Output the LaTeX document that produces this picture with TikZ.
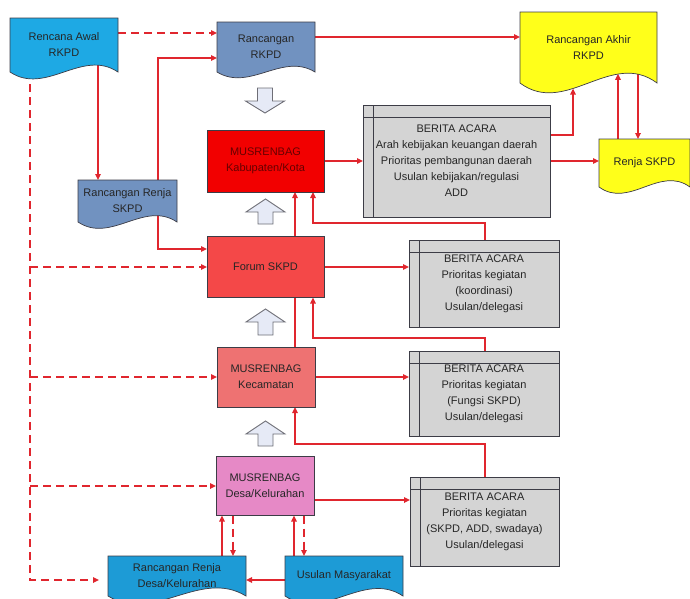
\documentclass[tikz,border=0pt]{standalone}
\usepackage{fontspec}
\setmainfont{Liberation Sans}
\usetikzlibrary{calc,arrows.meta}

\definecolor{boxline}{HTML}{3C3C46}
\definecolor{linkred}{HTML}{E0262E}
\definecolor{awalblue}{HTML}{1EA9E4}
\definecolor{slateblue}{HTML}{7192C0}
\definecolor{desablue}{HTML}{1D9BD6}
\definecolor{docyellow}{HTML}{FFFF1A}
\definecolor{kabred}{HTML}{F20000}
\definecolor{forumred}{HTML}{F44848}
\definecolor{kecred}{HTML}{EE7272}
\definecolor{desapink}{HTML}{E689C6}
\definecolor{acarafill}{HTML}{D4D4D4}
\definecolor{hollowfill}{HTML}{E6EAF6}
\definecolor{hollowline}{HTML}{6E6E76}

\pgfdeclarelayer{links}
\pgfdeclarelayer{docs}
\pgfsetlayers{links,docs,main}

\tikzset{
  box/.style={draw=boxline,line width=0.7pt,outer sep=0pt,inner sep=2pt,align=center,
    text=black!85,font=\fontsize{11}{16}\selectfont},
  doc/.style={box,draw=none},
  acara/.style={box,fill=acarafill,draw=boxline,
    path picture={\draw[boxline,line width=0.7pt]
      ([yshift=-12pt]path picture bounding box.north west) -- ([yshift=-12pt]path picture bounding box.north east)
      ([xshift=10pt]path picture bounding box.north west) -- ([xshift=10pt]path picture bounding box.south west);}},
  link/.style={draw=linkred,line width=1.5pt,-{Triangle[length=6pt,width=5.5pt]}},
  dashlink/.style={link,dash pattern=on 8pt off 5pt},
  hollow/.style={fill=hollowfill,draw=hollowline,line width=0.9pt}
}

% wavy document outline behind a node: node, fill, bulge
\newcommand\docwave[3]{%
  \begin{pgfonlayer}{docs}
    \filldraw[fill=#2,draw=boxline,line width=0.7pt] (#1.north west) -- (#1.north east) -- (#1.south east)
      .. controls ($(#1.south west)!0.667!(#1.south east)+(0,-#3)$) and ($(#1.south west)!0.333!(#1.south east)+(0,#3)$) .. (#1.south west) -- cycle;
  \end{pgfonlayer}}

% block arrow: x, tip, head base, tail
\newcommand\hollowarrow[4]{%
  \filldraw[hollow] (#1,#2) -- (#1+19.5,#3) -- (#1+7.5,#3) -- (#1+7.5,#4) -- (#1-7.5,#4) -- (#1-7.5,#3) -- (#1-19.5,#3) -- cycle;}

\begin{document}
\begin{tikzpicture}[x=1pt,y=-1pt]
  \useasboundingbox (0,0) rectangle (690,598);

  % documents
  \node[doc,minimum width=108pt,minimum height=54pt] (awal) at (64,45) {Rencana Awal\\RKPD};
  \node[doc,minimum width=98pt,minimum height=50pt] (rkpd) at (266,47) {Rancangan\\RKPD};
  \node[doc,minimum width=137pt,minimum height=71pt] (akhir) at (588.5,47.5) {Rancangan Akhir\\RKPD};
  \node[doc,minimum width=91pt,minimum height=48pt] (renja) at (644.5,163) {Renja SKPD};
  \node[doc,minimum width=99pt,minimum height=42pt] (renjaskpd) at (127.5,201) {Rancangan Renja\\SKPD};
  \node[doc,minimum width=138pt,minimum height=40pt] (renjadesa) at (177,576) {Rancangan Renja\\Desa/Kelurahan};
  \node[doc,minimum width=118pt,minimum height=40pt] (usulan) at (344,576) {Usulan Masyarakat};
  \docwave{awal}{awalblue}{24}
  \docwave{rkpd}{slateblue}{20}
  \docwave{akhir}{docyellow}{34}
  \docwave{renja}{docyellow}{22}
  \docwave{renjaskpd}{slateblue}{22}
  \docwave{renjadesa}{desablue}{28}
  \docwave{usulan}{desablue}{26}

  % musrenbag levels
  \node[box,fill=kabred,text=red!40!black,minimum width=117pt,minimum height=62pt] (kab) at (265.5,161) {MUSRENBAG\\Kabupaten/Kota};
  \node[box,fill=forumred,minimum width=117pt,minimum height=61pt] (forum) at (265.5,267) {Forum SKPD};
  \node[box,fill=kecred,minimum width=98pt,minimum height=60pt] (kec) at (266,377) {MUSRENBAG\\Kecamatan};
  \node[box,fill=desapink,minimum width=98pt,minimum height=59pt] (desa) at (265,486) {MUSRENBAG\\Desa/Kelurahan};

  % berita acara
  \node[acara,minimum width=187pt,minimum height=112pt] (ba1) at (456.5,161)
    {BERITA ACARA\\Arah kebijakan keuangan daerah\\Prioritas pembangunan daerah\\Usulan kebijakan/regulasi\\ADD};
  \node[acara,minimum width=150pt,minimum height=87pt] (ba2) at (484,283.5)
    {BERITA ACARA\\Prioritas kegiatan\\(koordinasi)\\Usulan/delegasi};
  \node[acara,minimum width=150pt,minimum height=85pt] (ba3) at (484,393.5)
    {BERITA ACARA\\Prioritas kegiatan\\(Fungsi SKPD)\\Usulan/delegasi};
  \node[acara,minimum width=149pt,minimum height=89pt] (ba4) at (484.5,521.5)
    {BERITA ACARA\\Prioritas kegiatan\\(SKPD, ADD, swadaya)\\Usulan/delegasi};

  \hollowarrow{265}{113}{101}{88}
  \hollowarrow{265.5}{199}{212}{224}
  \hollowarrow{265.5}{309}{322}{335}
  \hollowarrow{265.5}{421}{434}{446}

  \begin{pgfonlayer}{links}
    \draw[dashlink] ($(awal.east)+(0,-12)$) -- ($(awal.east -| rkpd.west)+(0,-12)$);
    \draw[link] ($(rkpd.east)+(0,-10)$) -- ($(rkpd.east -| akhir.west)+(0,-10)$);
    \draw[link] (awal.center -| 98,0) -- (renjaskpd.north -| 98,0);
    \draw[link] (renjaskpd.north -| 158,0) |- ($(rkpd.west)+(0,11)$);
    \draw[link] (renjaskpd.center -| 158,0) |- ($(forum.west)+(0,-18)$);
    \draw[link] ($(ba1.east)+(0,-26)$) -| ($(akhir.south -| 573,0)+(0,5.6)$);
    \draw[link] (ba1.east) -- (ba1.east -| renja.west);
    \draw[link] (renja.center -| 618,0) -- ($(akhir.south -| 618,0)+(0,-9.2)$);
    \draw[link] (akhir.center -| 638,0) -- (renja.north -| 638,0);
    \draw[link] (kab.east) -- (kab.east -| ba1.west);
    \draw[link] (kec.north -| 295,0) -- (kab.south -| 295,0);
    \draw[link] (ba2.north -| 485,0) -- ++(0,-17) -| (kab.south -| 313,0);
    \draw[link] (forum.east) -- (forum.east -| ba2.west);
    \draw[link] (ba3.north -| 485,0) -- ++(0,-13) -| (forum.south -| 313,0);
    \draw[link] (kec.east) -- (kec.east -| ba3.west);
    \draw[link] (ba4.north -| 485,0) -- ++(0,-33) -| (kec.south -| 295,0);
    \draw[link] ($(desa.east)+(0,14)$) -- ($(desa.east -| ba4.west)+(0,14)$);
    \draw[link] (renjadesa.north -| 222,0) -- (desa.south -| 222,0);
    \draw[dashlink] (desa.south -| 233,0) -- (renjadesa.north -| 233,0);
    \draw[link] (usulan.north -| 294,0) -- (desa.south -| 294,0);
    \draw[dashlink] (desa.south -| 304,0) -- (usulan.north -| 304,0);
    \draw[link] ($(usulan.west)+(0,4)$) -- ($(usulan.west -| renjadesa.east)+(0,4)$);
    % left trunk
    \draw[dashlink,shorten >=9pt] (awal.center -| 30,0) |- ($(renjadesa.west)+(0,4)$);
    \draw[dashlink] (forum.west -| 30,0) -- (forum.west);
    \draw[dashlink] (kec.west -| 30,0) -- (kec.west);
    \draw[dashlink] (desa.west -| 30,0) -- (desa.west);
  \end{pgfonlayer}
\end{tikzpicture}
\end{document}
